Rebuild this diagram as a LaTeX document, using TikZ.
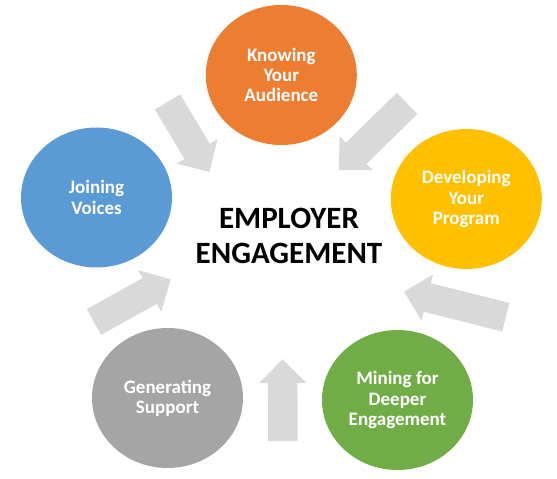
\documentclass[tikz,border=0pt]{standalone}
\usepackage{fontspec}
\setmainfont{Carlito}
\usetikzlibrary{shapes.geometric,calc}
\definecolor{cOrange}{HTML}{ED7D31}
\definecolor{cYellow}{HTML}{FFC000}
\definecolor{cBlue}{HTML}{5B9BD5}
\definecolor{cGray}{HTML}{A5A5A5}
\definecolor{cGreen}{HTML}{70AD47}
\definecolor{cArrow}{HTML}{D9D9D9}
\newcommand\arrShaft{14.75pt}
\newcommand\arrHead{23.75pt}
\newcommand\arrHeadLen{24pt}
\newcommand\blockarrow[2]{%
  \coordinate (#1hb) at ($(#2)!\arrHeadLen!(#1)$);
  \fill[arrowfill] ($(#1)!\arrShaft!90:(#2)$) -- ($(#1hb)!\arrShaft!90:(#2)$)
    -- ($(#1hb)!\arrHead!90:(#2)$) -- (#2) -- ($(#1hb)!\arrHead!-90:(#2)$)
    -- ($(#1hb)!\arrShaft!-90:(#2)$) -- ($(#1)!\arrShaft!-90:(#2)$) -- cycle;}
\begin{document}
\begin{tikzpicture}[x=1pt,y=1pt,
  arrowfill/.style={fill=cArrow},
  stage/.style={ellipse, minimum width=151pt, minimum height=140pt, inner sep=0pt,
    text=white, font=\bfseries\fontsize{19}{20.3}\selectfont, align=center},
  title/.style={font=\bfseries\fontsize{31}{35}\selectfont, align=center, text=black}]
\useasboundingbox (0,0) rectangle (557,479);
% arrows
\coordinate (a1s) at (167.5,377);   \coordinate (a1e) at (209.5,307);
\coordinate (a2s) at (407.1,375.6); \coordinate (a2e) at (339,309);
\coordinate (a3s) at (505.8,161.8); \coordinate (a3e) at (404,187.3);
\coordinate (a4s) at (282.8,38);    \coordinate (a4e) at (282.7,119.8);
\coordinate (a5s) at (93.9,157);    \coordinate (a5e) at (170.7,199.7);
\blockarrow{a1s}{a1e}
\blockarrow{a2s}{a2e}
\blockarrow{a3s}{a3e}
\blockarrow{a4s}{a4e}
\blockarrow{a5s}{a5e}
% stages
\node[stage, fill=cOrange] (know) at (281.3,404) {Knowing\\Your\\Audience};
\node[stage, fill=cYellow] (dev) at (466.3,280) {Developing\\Your\\Program};
\node[stage, fill=cGreen] (mine) at (397.5,79) {Mining for\\Deeper\\Engagement};
\node[stage, fill=cGray] (gen) at (167.5,81) {Generating\\Support};
\node[stage, fill=cBlue] (join) at (96.5,281.5) {Joining\\Voices};
\node[title] (center) at (289,243.5) {EMPLOYER\\ENGAGEMENT};
\end{tikzpicture}
\end{document}
